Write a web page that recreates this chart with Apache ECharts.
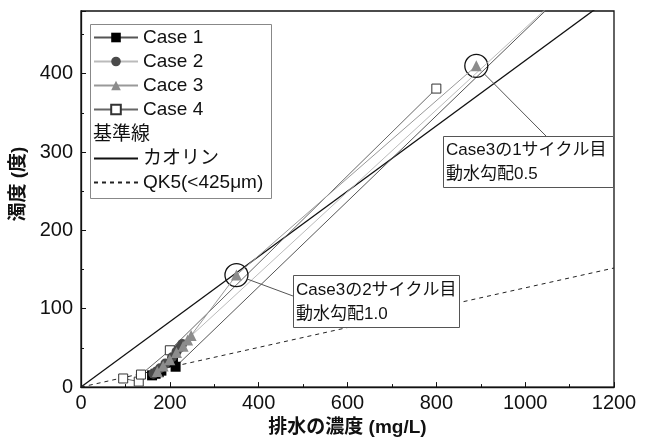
<!DOCTYPE html>
<html><head><meta charset="utf-8">
<script src="https://cdn.jsdelivr.net/npm/echarts@6/dist/echarts.min.js"></script>
<style>html,body{margin:0;padding:0;background:#fff}#c{width:646px;height:442px}</style>
</head><body><div id="c"></div>
<script>
// ---- data ----
const seriesNames = ['Case 1', 'Case 2', 'Cace 3', 'Case 4'];
const case1X = [160, 168, 175, 181, 207, 213, 1100];
const case1Y = [15, 17, 19, 21, 32, 26, 510];
const case2X = [163, 170, 178, 190, 205, 215, 222, 228, 1080];
const case2Y = [17, 20, 24, 30, 38, 45, 50, 55, 500];
const case3X = [172, 185, 200, 215, 230, 240, 248, 350, 890];
const case3Y = [20, 27, 35, 44, 52, 60, 66, 143, 410];
const case4X = [95, 130, 135, 200, 800];
const case4Y = [11, 7, 16, 47, 381];
const refHeader = '基準線';
const refNames = ['カオリン', 'QK5(<425μm)'];
const kaolinX = [0, 1200];
const kaolinY = [0, 500];
const qk5X = [0, 1200];
const qk5Y = [0, 152];
const xTicks = [0, 200, 400, 600, 800, 1000, 1200];
const yTicks = [0, 100, 200, 300, 400];
const note1 = ['Case3の1サイクル目', '動水勾配0.5'];
const note2 = ['Case3の2サイクル目', '動水勾配1.0'];
const note1Index = 8, note2Index = 7;

const zip = (xs, ys) => xs.map((x, i) => [x, ys[i]]);
const FONT = '"Liberation Sans", Arial, "Noto Sans CJK JP", sans-serif';

const chart = echarts.init(document.getElementById('c'));
const circleStyle = {color: 'rgba(0,0,0,0)', borderColor: '#111', borderWidth: 1.3};
const hidden = {color: 'rgba(0,0,0,0)', borderColor: 'rgba(0,0,0,0)', opacity: 0};

const option = {
  animation: false,
  backgroundColor: '#fff',
  textStyle: {fontFamily: FONT},
  grid: {left: 81, right: 32, top: 11, bottom: 47, show: true, borderColor: '#111', borderWidth: 1.3},
  xAxis: {
    type: 'value', min: 0, max: 1200, interval: 200,
    name: '排水の濃度 (mg/L)', nameLocation: 'middle', nameGap: 27,
    nameTextStyle: {fontSize: 19, fontWeight: 'bold', color: '#111', fontFamily: FONT},
    axisLine: {lineStyle: {color: '#111', width: 1.3}},
    axisTick: {inside: true, length: 5, lineStyle: {color: '#111'}},
    minorTick: {show: true, splitNumber: 2, length: 3, lineStyle: {color: '#111'}},
    axisLabel: {fontSize: 20, color: '#111', margin: 6, fontFamily: FONT,
      formatter: v => xTicks.includes(v) ? String(v) : ''},
    splitLine: {show: false}
  },
  yAxis: {
    type: 'value', min: 0, max: 480, interval: 100,
    name: '濁度 (度)', nameLocation: 'middle', nameGap: 46, nameRotate: 90,
    nameTextStyle: {fontSize: 19, fontWeight: 'bold', color: '#111', fontFamily: FONT, padding: [0, 0, 0, 30]},
    axisLine: {lineStyle: {color: '#111', width: 1.3}},
    axisTick: {inside: true, length: 5, lineStyle: {color: '#111'}},
    minorTick: {show: true, splitNumber: 2, length: 3, lineStyle: {color: '#111'}},
    axisLabel: {fontSize: 20, color: '#111', margin: 8, showMaxLabel: false, fontFamily: FONT,
      formatter: v => yTicks.includes(v) ? String(v) : ''},
    splitLine: {show: false}
  },
  legend: [
    {data: seriesNames, orient: 'vertical', left: 93, top: 28, padding: 0, itemGap: 5,
     itemWidth: 44, itemHeight: 12, textStyle: {fontSize: 19, lineHeight: 19, color: '#111', fontFamily: FONT}},
    {data: refNames.map(n => ({name: n, itemStyle: hidden})), orient: 'vertical', left: 93, top: 149, padding: 0, itemGap: 5,
     itemWidth: 44, itemHeight: 12, textStyle: {fontSize: 19, lineHeight: 19, color: '#111', fontFamily: FONT}}
  ],
  series: [
    {name: refNames[0], type: 'line', data: zip(kaolinX, kaolinY), symbol: 'none', z: 2,
     lineStyle: {color: '#111', width: 1.3}, itemStyle: {color: '#111'}},
    {name: refNames[1], type: 'line', data: zip(qk5X, qk5Y), symbol: 'none', z: 2,
     lineStyle: {color: '#222', width: 1, type: [4, 4]}, itemStyle: {color: '#222'}},
    {name: seriesNames[3], type: 'line', data: zip(case4X, case4Y), symbol: 'rect', symbolSize: 9, z: 3,
     lineStyle: {color: '#666', width: 1}, itemStyle: {color: '#fff', borderColor: '#333', borderWidth: 1}},
    {name: seriesNames[0], type: 'line', data: zip(case1X, case1Y), symbol: 'rect', symbolSize: 10, z: 4,
     lineStyle: {color: '#555', width: 1}, itemStyle: {color: '#000'}},
    {name: seriesNames[1], type: 'line', data: zip(case2X, case2Y), symbol: 'circle', symbolSize: 10, z: 5,
     lineStyle: {color: '#bbb', width: 1}, itemStyle: {color: '#4a4a4a'}},
    {name: seriesNames[2], type: 'line', data: zip(case3X, case3Y), symbol: 'triangle', symbolSize: 11, z: 6,
     lineStyle: {color: '#999', width: 1}, itemStyle: {color: '#8c8c8c'},
     markPoint: {symbol: 'circle', symbolSize: 23, silent: true, label: {show: false}, itemStyle: circleStyle,
       data: [{coord: [case3X[note1Index], case3Y[note1Index]]}, {coord: [case3X[note2Index], case3Y[note2Index]]}]}}
  ]
};
chart.setOption(option);

const p1 = chart.convertToPixel({gridIndex: 0}, [case3X[note1Index], case3Y[note1Index]]);
const p2 = chart.convertToPixel({gridIndex: 0}, [case3X[note2Index], case3Y[note2Index]]);
const box1 = {x: 443, y: 136, w: 170, h: 51};
const box2 = {x: 293, y: 275, w: 166, h: 52};
function edge(p, q, r) {
  const dx = q[0] - p[0], dy = q[1] - p[1], d = Math.hypot(dx, dy);
  return [p[0] + dx / d * r, p[1] + dy / d * r];
}
const end1 = [546, box1.y], end2 = [box2.x, 296];
const s1 = edge(p1, end1, 11.5), s2 = edge(p2, end2, 11.5);

chart.setOption({
  graphic: [
    {type: 'rect', shape: {x: 90.5, y: 24.5, width: 181, height: 174}, style: {fill: 'rgba(0,0,0,0)', stroke: '#888', lineWidth: 1}, z: 10},
    {type: 'text', x: 93, y: 135, style: {text: refHeader, font: '19px ' + FONT, fill: '#111', textVerticalAlign: 'middle'}, z: 11},
    {type: 'line', shape: {x1: s1[0], y1: s1[1], x2: end1[0], y2: end1[1]}, style: {stroke: '#555', lineWidth: 1}, z: 10},
    {type: 'line', shape: {x1: s2[0], y1: s2[1], x2: end2[0], y2: end2[1]}, style: {stroke: '#555', lineWidth: 1}, z: 10},
    {type: 'rect', shape: {x: box1.x + 0.5, y: box1.y + 0.5, width: box1.w, height: box1.h}, style: {fill: '#fff', stroke: '#555', lineWidth: 1}, z: 11},
    {type: 'text', x: box1.x + 3, y: box1.y + 2, style: {text: note1.join('\n'), font: '17px ' + FONT, lineHeight: 24, fill: '#111'}, z: 12},
    {type: 'rect', shape: {x: box2.x + 0.5, y: box2.y + 0.5, width: box2.w, height: box2.h}, style: {fill: '#fff', stroke: '#555', lineWidth: 1}, z: 11},
    {type: 'text', x: box2.x + 3, y: box2.y + 3, style: {text: note2.join('\n'), font: '17px ' + FONT, lineHeight: 24, fill: '#111'}, z: 12}
  ]
});
</script></body></html>
